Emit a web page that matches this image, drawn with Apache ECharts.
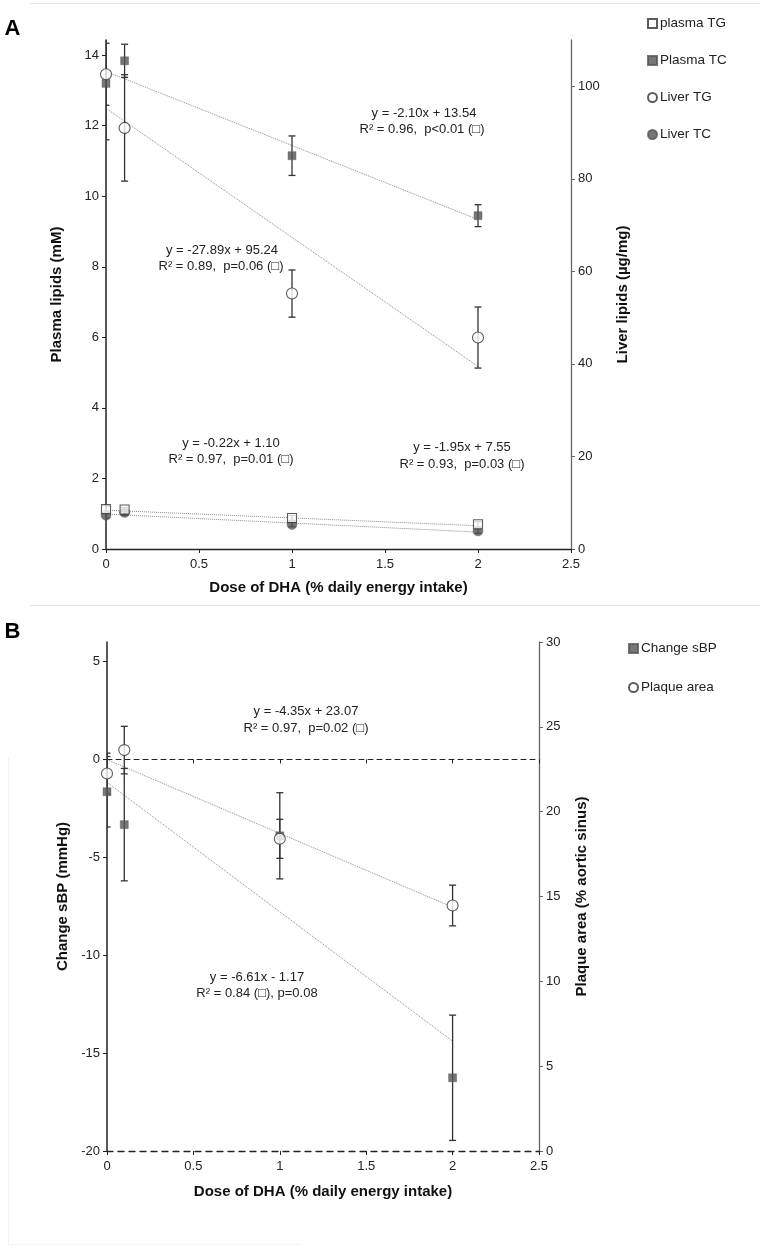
<!DOCTYPE html>
<html>
<head>
<meta charset="utf-8">
<script src="https://cdn.jsdelivr.net/npm/echarts@6/dist/echarts.min.js"></script>
<style>html,body{margin:0;padding:0;background:#fff;}#c{width:764px;height:1248px;}</style>
</head>
<body>
<div id="c"></div>
<script>
// ---------- data ----------
const dose = [0, 0.1, 1, 2];
const xTicks = [0, 0.5, 1, 1.5, 2, 2.5];

// Panel A (left axis: plasma, mM; right axis: liver, µg/mg)
const plasmaTG = [1.13, 1.12, 0.88, 0.70];
const plasmaTGErr = [0.08, 0.06, 0.07, 0.08];
const plasmaTC = [13.2, 13.84, 11.15, 9.45];
const plasmaTCErr = [1.6, 0.47, 0.56, 0.31];
const liverTG = [102.6, 91.0, 55.2, 45.7];
const liverTGErr = [6.7, 11.5, 5.1, 6.6];
const liverTC = [7.3, 7.9, 5.3, 3.9];
const liverTCErr = [0.6, 0.6, 0.5, 0.5];
const leftTicksA = [0, 2, 4, 6, 8, 10, 12, 14];
const rightTicksA = [0, 20, 40, 60, 80, 100];
// trend line end points (x = 0 and x = 2)
const trendX = [0, 2];
const trendPlasmaTC = [13.54, 9.34];
const trendLiverTG = [95.24, 39.46];
const trendPlasmaTG = [1.10, 0.66];
const trendLiverTC = [7.55, 3.65];

// Panel B (left axis: change sBP mmHg; right axis: plaque area %)
const sbp = [-1.65, -3.33, -3.9, -16.26];
const sbpErr = [1.8, 2.87, 2.2, 3.2];
const plaque = [22.25, 23.63, 18.4, 14.47];
const plaqueErr = [1.2, 1.4, 1.15, 1.2];
const leftTicksB = [-20, -15, -10, -5, 0, 5];
const rightTicksB = [0, 5, 10, 15, 20, 25, 30];
const trendPlaque = [23.07, 14.37];
const trendSBP = [-1.17, -14.39];

// ---------- helpers ----------
const FONT = '"Liberation Sans", Arial, sans-serif';
const pts = (ys) => dose.map((x, i) => [x, ys[i]]);
const errs = (ys, es) => dose.map((x, i) => [x, ys[i] - es[i], ys[i] + es[i]]);
const trend = (ys) => trendX.map((x, i) => [x, ys[i]]);

function errRender(params, api) {
  const x = api.value(0);
  const lo = api.coord([x, api.value(1)]);
  const hi = api.coord([x, api.value(2)]);
  const w = 3.5;
  const st = { stroke: '#333', lineWidth: 1.3 };
  return {
    type: 'group',
    children: [
      { type: 'line', shape: { x1: lo[0], y1: lo[1], x2: hi[0], y2: hi[1] }, style: st },
      { type: 'line', shape: { x1: lo[0] - w, y1: lo[1], x2: lo[0] + w, y2: lo[1] }, style: st },
      { type: 'line', shape: { x1: hi[0] - w, y1: hi[1], x2: hi[0] + w, y2: hi[1] }, style: st }
    ]
  };
}
function errSeries(data, xi, yi) {
  return { type: 'custom', xAxisIndex: xi, yAxisIndex: yi, renderItem: errRender, data: data, clip: true, z: 3, silent: true };
}
function trendSeries(data, xi, yi) {
  return { type: 'line', xAxisIndex: xi, yAxisIndex: yi, data: data, symbol: 'none', silent: true, z: 2,
    lineStyle: { color: '#8a8a8a', width: 1, type: 'dotted' } };
}
function markerSeries(name, data, xi, yi, symbol, filled, size) {
  return { name: name, type: 'scatter', xAxisIndex: xi, yAxisIndex: yi, data: data, symbol: symbol, symbolSize: size, z: 5,
    itemStyle: filled ? { color: '#555', borderColor: '#555', borderWidth: 0.5 } : { color: '#fff', borderColor: '#333', borderWidth: 1.1 } };
}
const tickLabel = { fontFamily: FONT, fontSize: 13, color: '#222' };
const nameStyle = { fontFamily: FONT, fontSize: 15, fontWeight: 'bold', color: '#111' };

function xAxisCfg(gridIndex, dashed, gap) {
  return {
    type: 'value', gridIndex: gridIndex, min: 0, max: 2.5, interval: 0.5, position: 'bottom',
    name: 'Dose of DHA (% daily energy intake)', nameLocation: 'middle', nameGap: gap, nameTextStyle: nameStyle,
    axisLine: { onZero: false, lineStyle: { color: '#222', width: 1.3, type: dashed ? [6, 5] : 'solid' } },
    axisTick: { show: true, length: 4, lineStyle: { color: '#222' } },
    axisLabel: Object.assign({ margin: 9, formatter: (v) => String(v), customValues: xTicks }, tickLabel),
    splitLine: { show: false }
  };
}
function yAxisCfg(gridIndex, pos, min, max, ticks, name, gap, color) {
  return {
    type: 'value', gridIndex: gridIndex, position: pos, min: min, max: max,
    name: name, nameLocation: 'middle', nameGap: gap, nameTextStyle: nameStyle,
    axisLine: { show: true, onZero: false, lineStyle: { color: color, width: pos === 'left' ? 1.5 : 1.3 } },
    axisTick: { show: true, length: 4, customValues: ticks, lineStyle: { color: color } },
    axisLabel: Object.assign({ margin: 7, customValues: ticks, formatter: (v) => String(v) }, tickLabel),
    splitLine: { show: false }
  };
}

// ---------- chart ----------
const chart = echarts.init(document.getElementById('c'), null, { renderer: 'canvas' });

const txt = (x, y, t, extra) => ({ type: 'text', x: x, y: y, silent: true,
  style: Object.assign({ text: t, font: '13px ' + FONT, fill: '#222', align: 'center', verticalAlign: 'middle' }, extra || {}) });
const hline = (x1, x2, y, c) => ({ type: 'line', silent: true, shape: { x1: x1, y1: y, x2: x2, y2: y }, style: { stroke: c, lineWidth: 1 } });
const vline = (x, y1, y2, c) => ({ type: 'line', silent: true, shape: { x1: x, y1: y1, x2: x, y2: y2 }, style: { stroke: c, lineWidth: 1 } });

chart.setOption({
  animation: false,
  backgroundColor: '#fff',
  grid: [
    { left: 106, top: 40, width: 465, height: 509, containLabel: false },
    { left: 107, top: 642, width: 432, height: 509, containLabel: false }
  ],
  xAxis: [
    xAxisCfg(0, false, 31),
    xAxisCfg(1, true, 33),
    { type: 'value', gridIndex: 1, min: 0, max: 2.5, interval: 0.5, position: 'bottom',
      axisLine: { onZero: true, onZeroAxisIndex: 2, lineStyle: { color: '#222', width: 1.1, type: [5, 4] } },
      axisTick: { show: true, length: 4, lineStyle: { color: '#222' } },
      axisLabel: { show: false }, splitLine: { show: false } }
  ],
  yAxis: [
    yAxisCfg(0, 'left', 0, 14.43, leftTicksA, 'Plasma lipids (mM)', 42, '#222'),
    yAxisCfg(0, 'right', 0, 110, rightTicksA, 'Liver lipids (µg/mg)', 44, '#666'),
    yAxisCfg(1, 'left', -20, 6, leftTicksB, 'Change sBP (mmHg)', 35, '#222'),
    yAxisCfg(1, 'right', 0, 30, rightTicksB, 'Plaque area (% aortic sinus)', 35, '#666')
  ],
  legend: [
    { orient: 'vertical', left: 642, top: 11.5, itemWidth: 9, itemHeight: 9, itemGap: 23,
      textStyle: { fontFamily: FONT, fontSize: 13.5, color: '#222', padding: [0, 0, 0, -2] }, selectedMode: false,
      data: [{ name: 'plasma TG', icon: 'rect' }, { name: 'Plasma TC', icon: 'rect' }, { name: 'Liver TG', icon: 'circle' }, { name: 'Liver TC', icon: 'circle' }] },
    { orient: 'vertical', left: 623, top: 636.5, itemWidth: 9, itemHeight: 9, itemGap: 25,
      textStyle: { fontFamily: FONT, fontSize: 13.5, color: '#222', padding: [0, 0, 0, -2] }, selectedMode: false,
      data: [{ name: 'Change sBP', icon: 'rect' }, { name: 'Plaque area', icon: 'circle' }] }
  ],
  graphic: [
    hline(30, 760, 3.5, '#e4e4e4'),
    hline(30, 760, 605.5, '#e4e4e4'),
    vline(8.5, 758, 1244, '#f0f0f0'),
    hline(8, 300, 1244.5, '#f4f4f4'),
    txt(12.5, 29, 'A', { font: 'bold 22px ' + FONT, fill: '#000' }),
    txt(12.5, 632, 'B', { font: 'bold 22px ' + FONT, fill: '#000' }),
    txt(424, 113, 'y = -2.10x + 13.54'),
    txt(422, 129, 'R² = 0.96,  p<0.01 (□)'),
    txt(222, 250, 'y = -27.89x + 95.24'),
    txt(221, 266.5, 'R² = 0.89,  p=0.06 (□)'),
    txt(231, 443, 'y = -0.22x + 1.10'),
    txt(231, 459, 'R² = 0.97,  p=0.01 (□)'),
    txt(462, 447, 'y = -1.95x + 7.55'),
    txt(462, 464, 'R² = 0.93,  p=0.03 (□)'),
    txt(306, 711, 'y = -4.35x + 23.07'),
    txt(306, 728, 'R² = 0.97,  p=0.02 (□)'),
    txt(257, 977, 'y = -6.61x - 1.17'),
    txt(257, 993, 'R² = 0.84 (□), p=0.08')
  ],
  series: [
    // Panel A
    trendSeries(trend(trendPlasmaTC), 0, 0),
    trendSeries(trend(trendLiverTG), 0, 1),
    trendSeries(trend(trendPlasmaTG), 0, 0),
    trendSeries(trend(trendLiverTC), 0, 1),
    errSeries(errs(plasmaTC, plasmaTCErr), 0, 0),
    errSeries(errs(liverTG, liverTGErr), 0, 1),
    errSeries(errs(plasmaTG, plasmaTGErr), 0, 0),
    errSeries(errs(liverTC, liverTCErr), 0, 1),
    markerSeries('Liver TC', pts(liverTC), 0, 1, 'circle', true, 10),
    markerSeries('plasma TG', pts(plasmaTG), 0, 0, 'rect', false, 9),
    markerSeries('Plasma TC', pts(plasmaTC), 0, 0, 'rect', true, 8),
    markerSeries('Liver TG', pts(liverTG), 0, 1, 'circle', false, 11),
    // Panel B
    trendSeries(trend(trendPlaque), 1, 3),
    trendSeries(trend(trendSBP), 1, 2),
    errSeries(errs(sbp, sbpErr), 1, 2),
    errSeries(errs(plaque, plaqueErr), 1, 3),
    markerSeries('Change sBP', pts(sbp), 1, 2, 'rect', true, 8),
    markerSeries('Plaque area', pts(plaque), 1, 3, 'circle', false, 11)
  ]
});
</script>
</body>
</html>
